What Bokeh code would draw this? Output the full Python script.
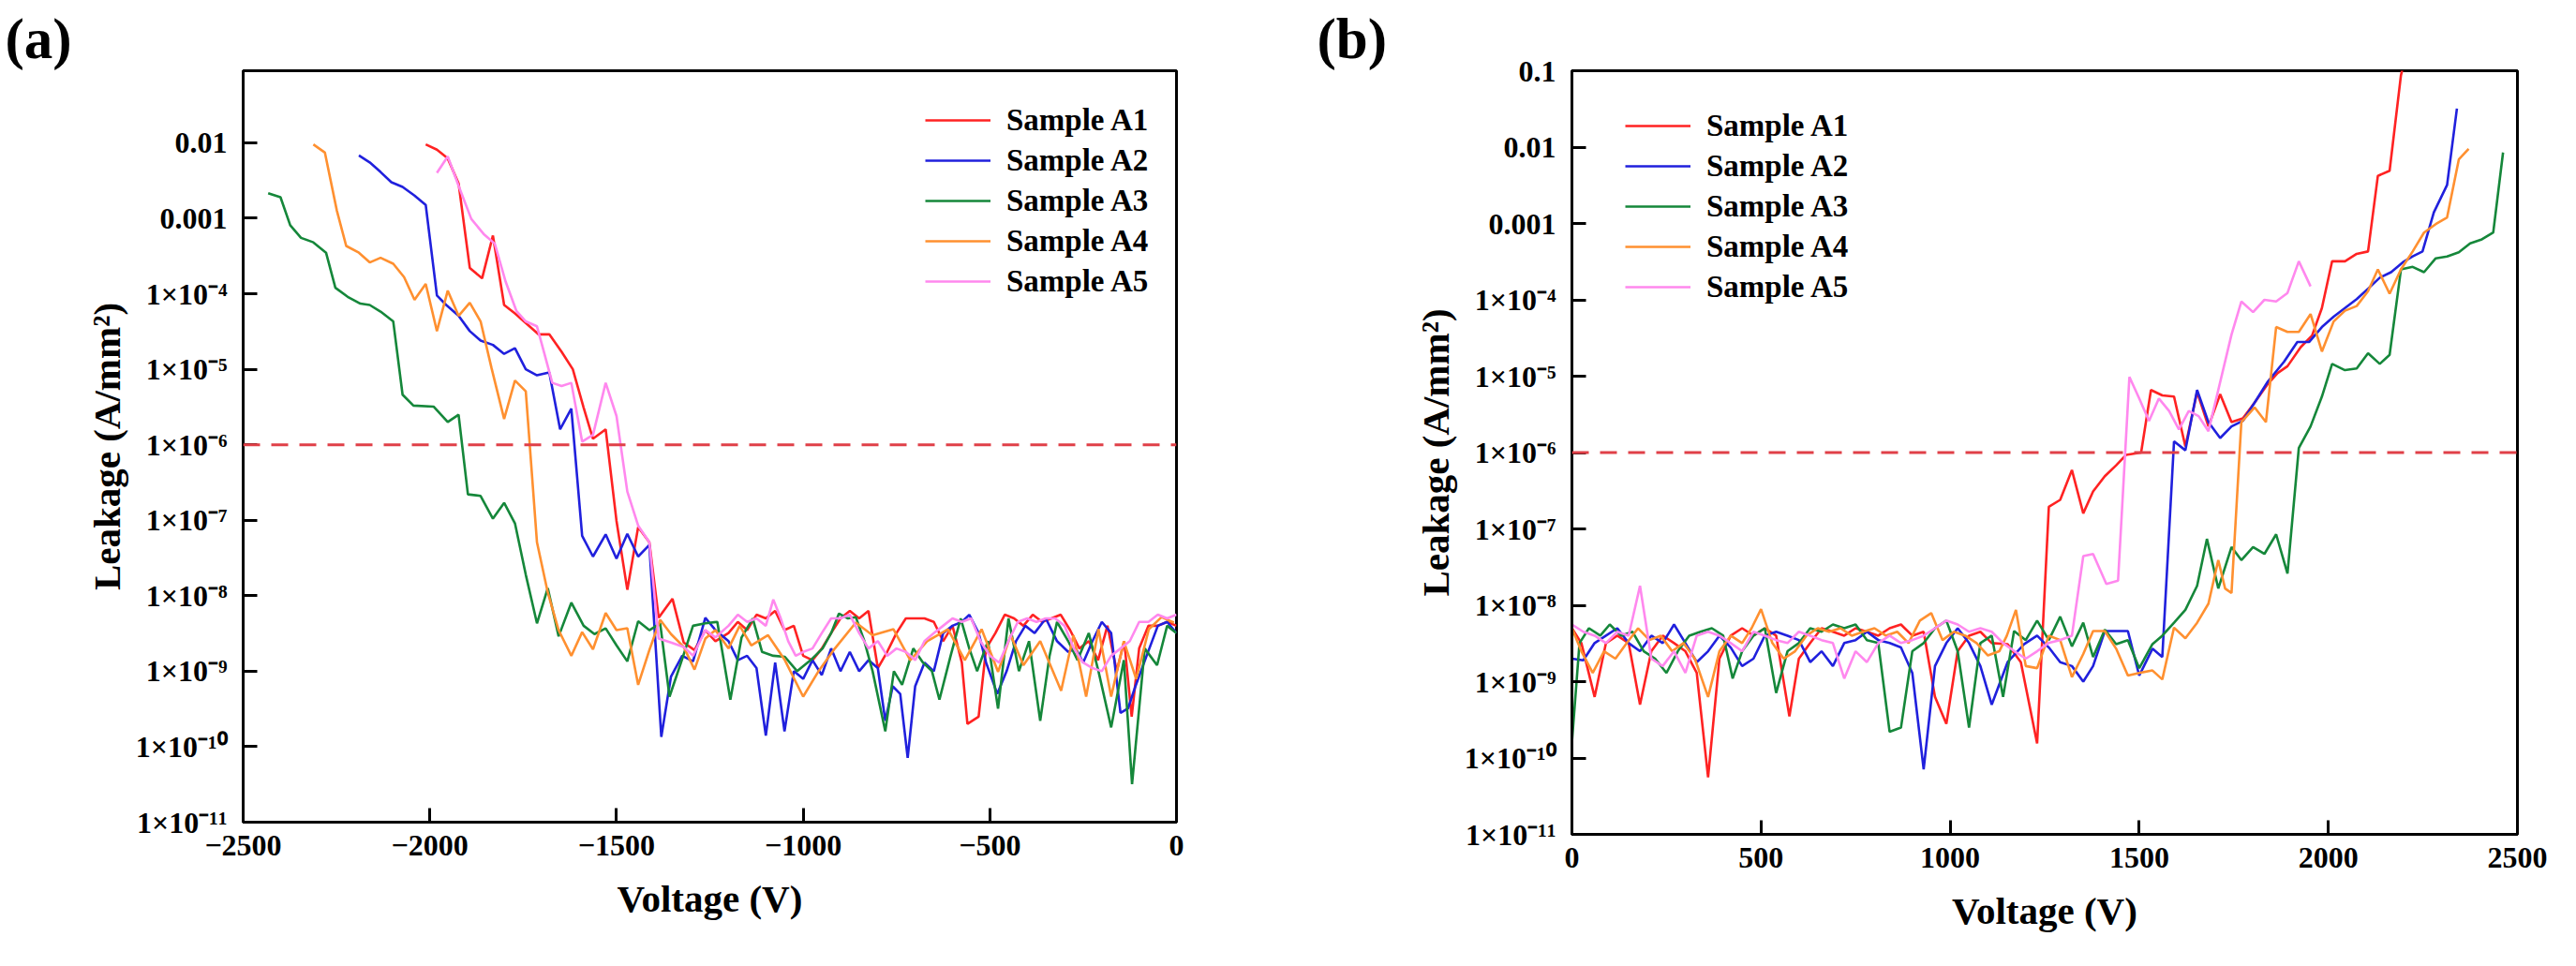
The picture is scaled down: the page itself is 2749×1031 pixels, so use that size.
from bokeh.plotting import figure
from bokeh.layouts import row
from bokeh.models import FixedTicker, Span, Legend, LegendItem, Range1d
from bokeh.embed import file_html
from bokeh.resources import INLINE

# ---------------- data : panel (a), reverse bias ----------------
a_A1_v = [-2011, -1981, -1952, -1923, -1893, -1860, -1831, -1801, -1772, -1743, -1709, -1680, -1647,
          -1617, -1588, -1563, -1529, -1500, -1471, -1442, -1412, -1387, -1350, -1320, -1291, -1262,
          -1235, -1200, -1175, -1150, -1125, -1100, -1075, -1050, -1025, -1000, -975, -950, -925, -900,
          -875, -850, -825, -800, -775, -750, -725, -700, -675, -650, -625, -600, -575, -560, -530,
          -510, -485, -460, -435, -410, -385, -360, -335, -310, -285, -260, -235, -210, -185, -160,
          -140, -120, -100, -75, -50, -25, 0]
a_A1_i = [9.5e-3, 8.1e-3, 6.2e-3, 2.9e-3, 2.2e-4, 1.6e-4, 5.9e-4, 7.1e-5, 5.5e-5, 4.1e-5, 2.9e-5, 2.9e-5, 1.7e-5,
          1.0e-5, 3.1e-6, 1.2e-6, 1.6e-6, 9.8e-8, 1.2e-8, 8.1e-8, 5.1e-8, 5.1e-9, 9.1e-9, 2.4e-9, 1.9e-9, 3.5e-9,
          2.5e-9, 3.2e-9, 4.5e-9, 3.5e-9, 5.6e-9, 5.0e-9, 6.3e-9, 3.5e-9, 4.0e-9, 1.6e-9, 1.4e-9, 2.0e-9, 3.2e-9, 5.0e-9,
          6.3e-9, 5.0e-9, 6.3e-9, 1.1e-9, 1.8e-9, 3.2e-9, 5.0e-9, 5.0e-9, 5.0e-9, 4.5e-9, 2.5e-9, 4.0e-9, 1.3e-9, 2.0e-10, 2.5e-10,
          2.0e-9, 3.2e-9, 5.6e-9, 5.0e-9, 4.0e-9, 5.6e-9, 4.5e-9, 5.0e-9, 5.6e-9, 3.5e-9, 2.0e-9, 2.5e-9, 1.4e-9, 4.0e-9, 1.0e-9,
          2.5e-9, 2.5e-10, 2.0e-9, 4.0e-9, 4.0e-9, 4.5e-9, 4.0e-9]

a_A2_v = [-2190, -2161, -2132, -2103, -2073, -2041, -2011, -1981, -1956, -1923, -1893, -1864, -1831, -1801,
          -1772, -1743, -1713, -1680, -1651, -1621, -1592, -1563, -1529, -1500, -1471, -1442, -1412, -1380,
          -1354, -1324, -1295, -1262,
          -1235, -1200, -1175, -1150, -1125, -1100, -1075, -1050, -1025, -1000, -975, -950, -925, -900,
          -875, -850, -825, -800, -780, -760, -740, -720, -700, -675, -650, -625, -600, -575, -555, -530,
          -510, -480, -455, -430, -405, -380, -350, -320, -290, -270, -250, -225, -200, -175, -150, -130,
          -110, -80, -50, -25, 0]
a_A2_i = [6.8e-3, 5.5e-3, 4.1e-3, 3.0e-3, 2.6e-3, 2.0e-3, 1.5e-3, 9.5e-5, 7.1e-5, 5.1e-5, 3.2e-5, 2.4e-5, 2.1e-5, 1.6e-5,
          1.9e-5, 1.0e-5, 8.3e-6, 9.1e-6, 1.6e-6, 3.0e-6, 6.2e-8, 3.3e-8, 6.5e-8, 3.1e-8, 6.6e-8, 3.3e-8, 4.7e-8, 1.35e-10,
          8.5e-10, 1.6e-9, 1.35e-9, 5.1e-9,
          3.5e-9, 2.5e-9, 1.4e-9, 1.6e-9, 1.1e-9, 1.4e-10, 1.3e-9, 1.6e-10, 1.0e-9, 7.9e-10, 1.4e-9, 8.9e-10, 2.0e-9, 1.0e-9,
          1.8e-9, 1.0e-9, 1.4e-9, 1.1e-9, 2.2e-10, 6.3e-10, 5.0e-10, 7.1e-11, 6.3e-10, 1.3e-9, 1.0e-9, 3.2e-9, 4.0e-9, 4.5e-9, 5.6e-9, 3.2e-9,
          1.3e-9, 5.0e-10, 1.0e-9, 2.5e-9, 4.0e-9, 3.2e-9, 5.0e-9, 2.5e-9, 1.8e-9, 2.0e-9, 1.3e-9, 2.5e-9, 4.5e-9, 3.2e-9, 2.8e-10, 3.2e-10,
          6.3e-10, 1.6e-9, 4.0e-9, 4.5e-9, 3.2e-9]

a_A3_v = [-2433, -2400, -2374, -2345, -2312, -2278, -2253, -2220, -2186, -2161, -2132, -2098, -2073, -2044,
          -1990, -1952, -1923, -1898, -1864, -1831, -1801, -1772, -1743, -1713, -1684, -1655, -1621, -1588,
          -1559, -1529, -1500, -1471, -1442, -1412, -1383, -1358, -1324, -1295, -1262,
          -1230, -1195, -1165, -1135, -1110, -1080, -1049, -1016, -980, -948, -925, -904, -880, -859, -836,
          -814, -780, -757, -735, -705, -679, -655, -635, -605, -578, -555, -534, -505, -478, -450, -422,
          -395, -365, -340, -320, -290, -265, -235, -209, -175, -141, -119, -85, -52, -25, 0]
a_A3_i = [2.15e-3, 1.9e-3, 8.1e-4, 5.5e-4, 4.8e-4, 3.5e-4, 1.2e-4, 9.1e-5, 7.4e-5, 7.1e-5, 5.8e-5, 4.3e-5, 4.6e-6, 3.3e-6,
          3.2e-6, 2.0e-6, 2.5e-6, 2.2e-7, 2.1e-7, 1.05e-7, 1.7e-7, 9.1e-8, 1.9e-8, 4.3e-9, 1.26e-8, 2.9e-9, 8.1e-9, 4.0e-9,
          3.1e-9, 3.7e-9, 2.2e-9, 1.35e-9, 4.6e-9, 3.5e-9, 4.3e-9, 4.6e-10, 1.45e-9, 4.0e-9, 4.3e-9,
          4.5e-9, 4.2e-10, 2.8e-9, 5.0e-9, 1.8e-9, 1.6e-9, 1.55e-9, 1.0e-9, 1.4e-9, 2.0e-9, 3.2e-9, 5.8e-9, 5.0e-9, 5.2e-9, 2.5e-9,
          1.0e-9, 1.6e-10, 1.0e-9, 6.6e-10, 2.0e-9, 1.3e-9, 1.0e-9, 4.2e-10, 1.6e-9, 5.0e-9, 2.0e-9, 1.0e-9, 2.5e-9, 3.2e-10, 5.0e-9, 1.0e-9,
          2.5e-9, 2.2e-10, 1.6e-9, 4.5e-9, 2.5e-9, 1.4e-9, 3.2e-9, 1.0e-9, 1.8e-10, 1.4e-9, 3.2e-11, 2.0e-9, 1.2e-9, 4.0e-9, 3.2e-9]

a_A4_v = [-2312, -2281, -2249, -2224, -2190, -2161, -2132, -2098, -2069, -2041, -2011, -1981, -1952, -1923,
          -1893, -1864, -1835, -1801, -1772, -1743, -1713, -1684, -1655, -1621, -1592, -1563, -1529, -1500,
          -1471, -1442, -1412, -1383, -1354, -1320, -1291, -1262,
          -1235, -1200, -1170, -1139, -1094, -1049, -1000, -960, -915, -859, -814, -758, -713, -668, -612,
          -567, -522, -478, -444, -410, -365, -309, -276, -242, -209, -175, -141, -108, -74, -40, -7]
a_A4_i = [9.5e-3, 7.4e-3, 1.26e-3, 4.3e-4, 3.5e-4, 2.6e-4, 3.0e-4, 2.5e-4, 1.66e-4, 8.3e-5, 1.35e-4, 3.2e-5, 1.1e-4, 5.1e-5,
          7.6e-5, 4.3e-5, 1.05e-5, 2.2e-6, 7.1e-6, 5.1e-6, 5.1e-8, 1.1e-8, 3.5e-9, 1.6e-9, 3.3e-9, 1.95e-9, 5.9e-9, 3.5e-9,
          3.7e-9, 6.6e-10, 1.9e-9, 4.8e-9, 3.1e-9, 2.1e-9, 1.05e-9, 2.7e-9,
          3.5e-9, 2.0e-9, 4.0e-9, 2.2e-9, 3.0e-9, 1.4e-9, 4.6e-10, 9.8e-10, 2.0e-9, 4.4e-9, 3.0e-9, 3.6e-9, 1.4e-9, 2.5e-9, 3.6e-9,
          1.4e-9, 3.6e-9, 9.8e-10, 3.0e-9, 1.2e-9, 2.5e-9, 5.5e-10, 3.0e-9, 4.6e-10, 3.6e-9, 4.6e-10, 2.5e-9, 7.9e-10, 3.6e-9, 5.2e-9, 4.4e-9]

a_A5_v = [-1981, -1952, -1923, -1889, -1856, -1826, -1797, -1768, -1743, -1713, -1693, -1672, -1647, -1621,
          -1592, -1563, -1529, -1500, -1471, -1442, -1412, -1387, -1354, -1320, -1295, -1262,
          -1235, -1200, -1175, -1150, -1125, -1100, -1080, -1060, -1040, -1020, -1000, -975, -950, -925,
          -900, -875, -850, -825, -800, -775, -750, -725, -700, -675, -650, -625, -600, -575, -550, -525,
          -500, -475, -450, -425, -400, -375, -350, -325, -300, -275, -250, -225, -200, -175, -150, -125,
          -100, -75, -50, -25, 0]
a_A5_i = [4.0e-3, 6.6e-3, 2.7e-3, 9.8e-4, 6.2e-4, 4.6e-4, 1.45e-4, 5.9e-5, 4.3e-5, 3.7e-5, 1.6e-5, 6.6e-6, 6.0e-6, 6.6e-6,
          1.1e-6, 1.35e-6, 6.6e-6, 2.4e-6, 2.4e-7, 8.5e-8, 5.1e-8, 2.7e-9, 2.4e-9, 2.1e-9, 1.6e-9, 3.5e-9,
          2.8e-9, 4.0e-9, 5.6e-9, 4.5e-9, 5.0e-9, 4.0e-9, 8.9e-9, 5.0e-9, 2.5e-9, 1.6e-9, 1.8e-9, 2.0e-9, 3.2e-9, 5.0e-9,
          5.0e-9, 5.6e-9, 3.2e-9, 2.0e-9, 2.5e-9, 1.6e-9, 2.0e-9, 1.8e-9, 1.4e-9, 2.5e-9, 3.2e-9, 4.0e-9, 5.0e-9, 4.5e-9, 5.0e-9, 2.5e-9,
          1.6e-9, 1.3e-9, 2.5e-9, 4.5e-9, 5.0e-9, 4.5e-9, 5.0e-9, 5.0e-9, 4.0e-9, 2.0e-9, 1.3e-9, 1.1e-9, 1.0e-9, 1.6e-9, 2.0e-9, 2.5e-9,
          4.5e-9, 4.5e-9, 5.6e-9, 5.0e-9, 5.6e-9]

# ---------------- data : panel (b), forward bias ----------------
b_A1_v = [0, 25, 60, 90, 120, 150, 180, 210, 240, 270, 300, 330, 360, 390, 420, 450, 480, 510, 540, 575,
          600, 630, 660, 690, 720, 750, 780, 810, 840, 870, 900, 930, 960, 990, 1020, 1050, 1080, 1110,
          1152, 1187, 1230, 1261, 1291, 1322, 1352, 1378, 1409, 1439, 1465, 1505, 1531, 1561, 1592, 1622,
          1653, 1683, 1714, 1744, 1774, 1805, 1840, 1866, 1892, 1927, 1957, 1983, 2010, 2044, 2075, 2105,
          2131, 2162, 2192, 2200]
b_A1_i = [5.0e-9, 3.2e-9, 6.3e-10, 3.2e-9, 4.0e-9, 3.2e-9, 5.0e-10, 2.5e-9, 4.0e-9, 3.2e-9, 2.5e-9, 1.3e-9, 5.6e-11, 2.0e-9,
          4.0e-9, 5.0e-9, 4.0e-9, 5.0e-9, 4.0e-9, 3.5e-10, 2.0e-9, 3.2e-9, 5.0e-9, 4.5e-9, 4.0e-9, 5.0e-9, 4.5e-9, 4.0e-9,
          5.0e-9, 5.6e-9, 4.0e-9, 4.5e-9, 6.3e-10, 2.8e-10, 2.5e-9, 4.0e-9, 4.5e-9, 3.2e-9,
          3.1e-9, 1.8e-9, 1.55e-10, 1.95e-7, 2.4e-7, 5.9e-7, 1.6e-7, 3.1e-7, 4.9e-7, 6.8e-7, 9.3e-7, 1.0e-6, 6.6e-6, 5.6e-6,
          5.4e-6, 1.2e-6, 6.2e-6, 2.2e-6, 5.8e-6, 2.5e-6, 2.8e-6, 4.5e-6, 7.9e-6, 1.1e-5, 1.35e-5, 2.4e-5, 3.4e-5, 7.8e-5,
          3.2e-4, 3.2e-4, 4.0e-4, 4.3e-4, 4.2e-3, 4.9e-3, 8.7e-2, 1.26e-1]

b_A2_v = [0, 30, 60, 90, 120, 150, 180, 210, 240, 270, 300, 330, 360, 390, 420, 450, 480, 510, 540, 570,
          600, 630, 660, 690, 720, 750, 780, 810, 840, 870, 900, 930, 960, 990, 1020, 1050, 1080, 1110,
          1152, 1196, 1230, 1261, 1291, 1322, 1352, 1378, 1409, 1439, 1470, 1500, 1535, 1561,
          1592, 1622, 1653, 1683, 1714, 1744, 1774, 1805, 1840, 1883, 1918, 1949, 1983, 2014, 2044, 2075,
          2105, 2136, 2166, 2197, 2223, 2249, 2279, 2314, 2340]
b_A2_i = [2.0e-9, 1.9e-9, 3.2e-9, 4.0e-9, 5.0e-9, 3.2e-9, 2.5e-9, 4.0e-9, 3.2e-9, 5.6e-9, 3.2e-9, 1.8e-9, 2.5e-9, 4.0e-9,
          2.8e-9, 1.6e-9, 2.0e-9, 4.0e-9, 4.5e-9, 4.0e-9, 3.5e-9, 1.8e-9, 2.5e-9, 1.6e-9, 3.2e-9, 3.5e-9, 4.5e-9, 3.5e-9,
          3.2e-9, 2.8e-9, 1.3e-9, 7.1e-11, 1.6e-9, 3.2e-9, 5.0e-9, 3.2e-9, 1.6e-9, 5.0e-10,
          1.8e-9, 3.1e-9, 4.0e-9, 2.8e-9, 1.8e-9, 1.6e-9, 1.0e-9, 1.6e-9, 4.6e-9, 4.6e-9, 4.6e-9, 1.2e-9, 2.7e-9, 2.1e-9,
          1.4e-6, 1.07e-6, 6.6e-6, 2.5e-6, 1.55e-6, 2.2e-6, 2.6e-6, 4.5e-6, 8.5e-6, 1.55e-5, 2.8e-5, 2.8e-5, 4.4e-5, 6.0e-5,
          7.8e-5, 1.02e-4, 1.4e-4, 1.95e-4, 2.3e-4, 3.1e-4, 3.7e-4, 4.3e-4, 1.4e-3, 3.2e-3, 3.2e-2]

b_A3_v = [0, 20, 45, 75, 100, 130, 160, 190, 220, 250, 280, 310, 340, 370, 400, 425, 450, 480, 510, 540,
          570, 600, 630, 660, 690, 720, 750, 780, 810, 840, 870, 900, 930, 960, 990, 1020, 1050, 1080, 1110, 1140,
          1169, 1200, 1230, 1261, 1291, 1322, 1352, 1378, 1409, 1439, 1470,
          1500, 1535, 1561, 1592, 1622, 1653, 1679, 1709, 1744, 1770, 1801, 1831, 1862, 1892, 1922, 1953,
          1983, 2010, 2044, 2075, 2105, 2136, 2162, 2192, 2223, 2253, 2284, 2314, 2345, 2375, 2406, 2436, 2462]
b_A3_i = [1.6e-10, 3.2e-9, 5.0e-9, 4.0e-9, 5.6e-9, 4.0e-9, 4.5e-9, 2.5e-9, 2.0e-9, 1.3e-9, 2.5e-9, 4.0e-9, 4.5e-9, 5.0e-9,
          4.0e-9, 1.1e-9, 2.5e-9, 4.0e-9, 5.0e-9, 7.1e-10, 2.5e-9, 3.2e-9, 5.0e-9, 4.5e-9, 5.6e-9, 5.0e-9, 5.6e-9, 3.5e-9,
          3.2e-9, 2.2e-10, 2.5e-10, 2.5e-9, 3.2e-9, 5.0e-9, 6.3e-9, 2.5e-9, 2.5e-10, 3.2e-9, 4.0e-9, 6.3e-10,
          4.6e-9, 3.5e-9, 6.3e-9, 3.5e-9, 7.1e-9, 2.9e-9, 5.9e-9, 2.1e-9, 4.8e-9, 3.1e-9, 3.5e-9,
          1.5e-9, 3.1e-9, 4.0e-9, 5.9e-9, 8.7e-9, 1.8e-8, 7.4e-8, 1.66e-8, 5.8e-8, 3.9e-8, 5.8e-8, 4.7e-8, 8.5e-8, 2.6e-8,
          1.15e-6, 2.2e-6, 5.4e-6, 1.45e-5, 1.2e-5, 1.26e-5, 2.0e-5, 1.45e-5, 1.9e-5, 2.5e-4, 2.7e-4, 2.3e-4, 3.5e-4, 3.7e-4,
          4.2e-4, 5.5e-4, 6.2e-4, 7.6e-4, 8.5e-3]

b_A4_v = [0, 25, 55, 85, 115, 145, 175, 205, 235, 265, 295, 325, 360, 390, 420, 450, 475, 500, 530, 560,
          590, 620, 650, 680, 710, 740, 770, 800, 830, 860, 890, 920, 950, 980, 1010, 1040, 1070, 1100, 1130, 1150,
          1174, 1200, 1230, 1261, 1291, 1322, 1352, 1378, 1409, 1439, 1470, 1500, 1535,
          1561, 1592, 1622, 1653, 1683, 1709, 1727, 1744, 1770, 1805, 1835, 1862, 1892, 1922, 1953, 1983,
          2014, 2044, 2075, 2105, 2131, 2162, 2192, 2223, 2253, 2284, 2314, 2345, 2371]
b_A4_i = [5.0e-9, 2.5e-9, 1.3e-9, 2.5e-9, 2.0e-9, 3.2e-9, 5.0e-9, 3.5e-9, 4.0e-9, 2.5e-9, 3.2e-9, 2.0e-9, 6.3e-10, 2.5e-9,
          4.0e-9, 3.2e-9, 5.0e-9, 8.9e-9, 3.2e-9, 2.0e-9, 2.5e-9, 4.0e-9, 5.0e-9, 4.5e-9, 5.0e-9, 4.0e-9, 4.5e-9, 5.0e-9,
          4.0e-9, 4.5e-9, 3.2e-9, 6.3e-9, 7.9e-9, 3.5e-9, 4.5e-9, 4.0e-9, 3.2e-9, 2.2e-9, 2.5e-9, 4.0e-9,
          8.7e-9, 1.6e-9, 1.5e-9, 4.0e-9, 3.5e-9, 1.15e-9, 2.3e-9, 4.6e-9, 4.6e-9, 2.7e-9, 1.2e-9, 1.3e-9, 1.4e-9,
          1.07e-9, 5.1e-9, 3.7e-9, 5.9e-9, 1.05e-8, 3.9e-8, 1.66e-8, 1.45e-8, 2.5e-6, 3.9e-6, 2.5e-6, 4.4e-5, 3.8e-5, 3.8e-5,
          6.5e-5, 2.1e-5, 5.2e-5, 7.2e-5, 8.3e-5, 1.3e-4, 2.5e-4, 1.2e-4, 2.5e-4, 4.3e-4, 7.6e-4, 9.8e-4, 1.2e-3, 6.9e-3, 9.5e-3]

b_A5_v = [0, 30, 60, 90, 120, 150, 180, 210, 240, 270, 300, 330, 360, 390, 420, 450, 480, 510, 540, 570,
          600, 630, 660, 690, 720, 750, 780, 810, 840, 870, 900, 930, 960, 990, 1020, 1050, 1080, 1110, 1140, 1170,
          1200, 1230, 1260, 1290,
          1322, 1352, 1378, 1413, 1444, 1474, 1500, 1526, 1552, 1579, 1605, 1631, 1657, 1683, 1709, 1744,
          1770, 1801, 1831, 1862, 1892, 1922, 1953]
b_A5_i = [5.6e-9, 4.5e-9, 4.0e-9, 3.2e-9, 4.5e-9, 4.0e-9, 1.8e-8, 2.0e-9, 1.6e-9, 2.5e-9, 1.3e-9, 4.0e-9, 4.5e-9, 4.0e-9,
          3.2e-9, 2.5e-9, 4.5e-9, 4.0e-9, 3.5e-9, 3.2e-9, 4.5e-9, 4.0e-9, 3.5e-9, 3.2e-9, 1.1e-9, 2.5e-9, 1.8e-9, 3.2e-9,
          4.0e-9, 3.2e-9, 3.5e-9, 4.0e-9, 5.0e-9, 6.3e-9, 5.6e-9, 4.5e-9, 5.0e-9, 4.5e-9, 3.2e-9, 2.5e-9,
          2.0e-9, 2.5e-9, 3.2e-9, 3.5e-9,
          4.0e-9, 4.4e-8, 4.7e-8, 1.9e-8, 2.1e-8, 9.8e-6, 5.1e-6, 2.6e-6, 5.1e-6, 3.5e-6, 2.0e-6, 3.5e-6, 3.0e-6, 1.9e-6,
          6.6e-6, 3.5e-5, 9.5e-5, 6.9e-5, 1.0e-4, 9.5e-5, 1.23e-4, 3.2e-4, 1.5e-4]

names = ["Sample A1", "Sample A2", "Sample A3", "Sample A4", "Sample A5"]
colors = ["#ff2222", "#2020dd", "#15873a", "#ff9030", "#ff88ee"]

x_ticks_a = [-2500, -2000, -1500, -1000, -500, 0]
x_labels_a = ["\u22122500", "\u22122000", "\u22121500", "\u22121000", "\u2212500", "0"]
x_ticks_b = [0, 500, 1000, 1500, 2000, 2500]
x_labels_b = ["0", "500", "1000", "1500", "2000", "2500"]
y_ticks = [1e-11, 1e-10, 1e-9, 1e-8, 1e-7, 1e-6, 1e-5, 1e-4, 1e-3, 1e-2, 1e-1]
y_labels = ["1×10⁻¹¹", "1×10⁻¹⁰", "1×10⁻⁹", "1×10⁻⁸", "1×10⁻⁷", "1×10⁻⁶",
            "1×10⁻⁵", "1×10⁻⁴", "0.001", "0.01", "0.1"]
threshold = 1e-6

FONT = "Liberation Serif"


def make_panel(tag, tag_offset, xr, yr, xt, xl, series, fw, fh, bl, bt, br, bb, leg_xy):
    p = figure(x_range=Range1d(*xr), y_range=Range1d(*yr), y_axis_type="log",
               frame_width=fw, frame_height=fh,
               min_border_left=bl, min_border_top=bt, min_border_right=br, min_border_bottom=bb,
               output_backend="svg", toolbar_location=None)
    p.background_fill_color = "white"
    p.border_fill_color = "white"
    p.outline_line_color = "black"
    p.outline_line_width = 3
    p.xgrid.visible = False
    p.ygrid.visible = False

    # panel tag "(a)" / "(b)" as the figure title, shifted to the far left
    p.title.text = tag
    p.title.align = "left"
    p.title.offset = tag_offset
    p.title.text_font = FONT
    p.title.text_font_style = "bold"
    p.title.text_font_size = "61px"
    p.title.text_color = "black"
    p.title.standoff = 2

    p.xaxis.ticker = FixedTicker(ticks=xt, minor_ticks=[])
    p.xaxis.major_label_overrides = dict(zip(xt, xl))
    p.yaxis.ticker = FixedTicker(ticks=y_ticks, minor_ticks=[])
    p.yaxis.major_label_overrides = dict(zip(y_ticks, y_labels))
    p.xaxis.axis_label = "Voltage (V)"
    p.yaxis.axis_label = "Leakage (A/mm²)"
    for ax in (p.xaxis[0], p.yaxis[0]):
        ax.axis_line_width = 3
        ax.axis_line_color = "black"
        ax.major_tick_line_width = 3
        ax.major_tick_line_color = "black"
        ax.major_tick_in = 15
        ax.major_tick_out = 0
        ax.minor_tick_line_color = None
        ax.major_label_text_font = FONT
        ax.major_label_text_font_style = "bold"
        ax.major_label_text_font_size = "32px"
        ax.major_label_text_color = "black"
        ax.axis_label_text_font = FONT
        ax.axis_label_text_font_style = "bold"
        ax.axis_label_text_font_size = "41px"
        ax.axis_label_text_color = "black"
    p.xaxis.major_label_standoff = 14
    p.xaxis.axis_label_standoff = 20
    p.yaxis.major_label_standoff = 17
    p.yaxis.axis_label_standoff = 5

    p.add_layout(Span(location=threshold, dimension="width", line_color="#e04048",
                      line_width=3, line_dash="18 12"))

    items = []
    for (v, i), name, c in zip(series, names, colors):
        r = p.line(v, i, line_color=c, line_width=2.6)
        items.append(LegendItem(label=name, renderers=[r]))
    leg = Legend(items=items, location=leg_xy)
    leg.label_text_font = FONT
    leg.label_text_font_style = "bold"
    leg.label_text_font_size = "33px"
    leg.label_text_color = "black"
    leg.glyph_width = 70
    leg.glyph_height = 38
    leg.label_height = 38
    leg.label_standoff = 17
    leg.spacing = 5
    leg.padding = 0
    leg.margin = 0
    leg.border_line_color = None
    leg.background_fill_alpha = 0
    p.add_layout(leg)
    return p


pa = make_panel("(a)", -254, (-2500, 0), (1e-11, 0.09), x_ticks_a, x_labels_a,
                [(a_A1_v, a_A1_i), (a_A2_v, a_A2_i), (a_A3_v, a_A3_i), (a_A4_v, a_A4_i), (a_A5_v, a_A5_i)],
                996, 802, 259, 74, 127, 137, (728, 558))
pb = make_panel("(b)", -272, (0, 2500), (1e-11, 0.1), x_ticks_b, x_labels_b,
                [(b_A1_v, b_A1_i), (b_A2_v, b_A2_i), (b_A3_v, b_A3_i), (b_A4_v, b_A4_i), (b_A5_v, b_A5_i)],
                1009, 815, 295, 75, 45, 123, (57, 565))

layout = row(pa, pb)
open("out.html", "w").write(file_html(layout, INLINE))
